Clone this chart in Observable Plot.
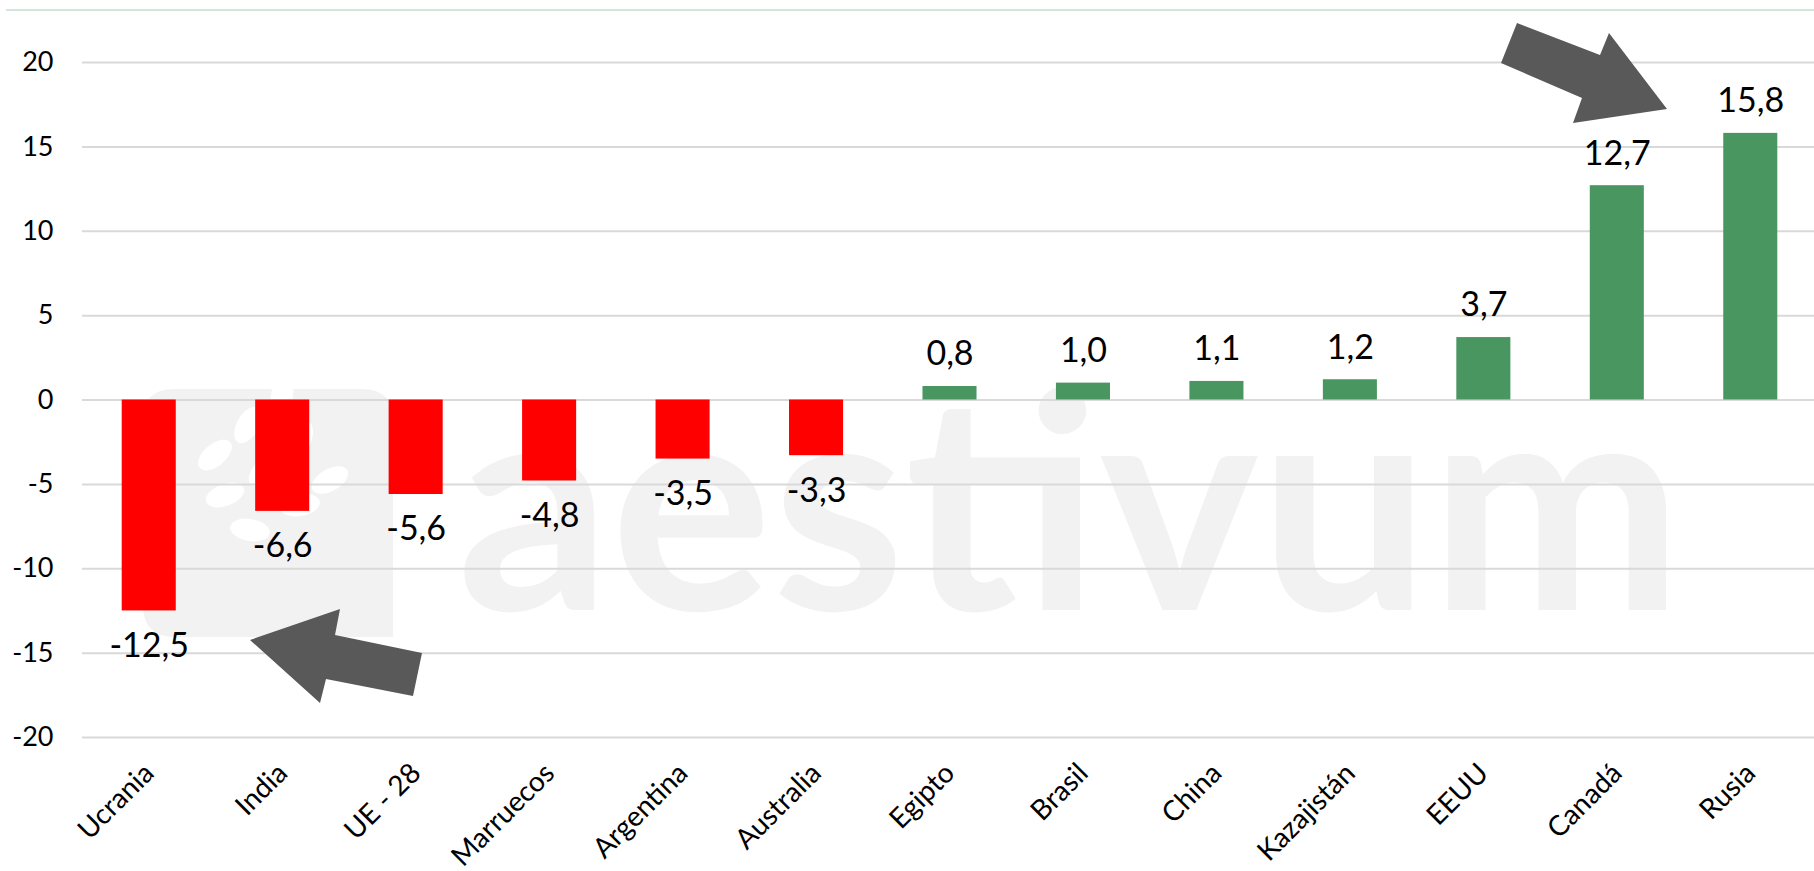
<!DOCTYPE html>
<html><head><meta charset="utf-8">
<script src="https://cdn.jsdelivr.net/npm/d3@7"></script>
<script src="https://cdn.jsdelivr.net/npm/@observablehq/plot@0.6"></script>
<style>body{margin:0;background:#fff} svg{display:block}</style>
</head><body><div id="chart"></div>
<script>
const countries = ["Ucrania","India","UE - 28","Marruecos","Argentina","Australia","Egipto","Brasil","China","Kazajistán","EEUU","Canadá","Rusia"];
const values = [-12.5,-6.6,-5.6,-4.8,-3.5,-3.3,0.8,1.0,1.1,1.2,3.7,12.7,15.8];
const yTicks = [-20,-15,-10,-5,0,5,10,15,20];
const data = countries.map((c,i)=>({country:c, value:values[i]}));
const neg = data.filter(d=>d.value<0);
const pos = data.filter(d=>d.value>=0);
const fmt = v => v.toFixed(1).replace(".", ",");

const chart = Plot.plot({
  width:1814, height:871,
  marginLeft:82, marginRight:-3, marginTop:62, marginBottom:134,
  style:{fontFamily:"Lato", background:"#fff", color:"#000", overflow:"hidden"},
  x:{domain:countries, paddingInner:0.595, paddingOuter:0.2975, round:false, label:null},
  y:{domain:[-20,20], label:null},
  marks:[
    Plot.gridY(yTicks,{stroke:"#d9d9d9", strokeOpacity:1, strokeWidth:2}),
    Plot.barY(neg,{x:"country", y:"value", fill:"#ff0000"}),
    Plot.barY(pos,{x:"country", y:"value", fill:"#4a9661"}),
    Plot.text(pos,{x:"country", y:"value", text:d=>fmt(d.value), dy:-32, fontSize:34, fill:"#000"}),
    Plot.text(neg,{x:"country", y:"value", text:d=>fmt(d.value), dy:35, fontSize:34, fill:"#000"}),
    Plot.axisY({ticks:yTicks, tickSize:0, tickPadding:29, fontSize:27, tickFormat:d=>String(d), label:null}),
    Plot.axisX({tickSize:0, tickRotate:-45, tickPadding:31, fontSize:28, label:null})
  ]
});

const svg = d3.select(chart);
// watermark (behind everything)
const wm = svg.insert("g", ":first-child");
wm.append("path")
  .attr("d","M143,420 Q143,389 174,389 L362,389 Q393,389 393,420 L393,637 L175,637 Q143,637 143,605 Z")
  .attr("fill","#f2f2f2");
const leaves = [[215,455,-40],[248,425,-60],[282,395,-80],[225,495,-20],[265,470,-45],[300,440,-65],[250,530,10],[300,505,-10],[330,480,-30]];
leaves.forEach(([cx,cy,r])=>{
  wm.append("ellipse").attr("cx",cx).attr("cy",cy).attr("rx",20).attr("ry",11)
    .attr("transform",`rotate(${r},${cx},${cy})`).attr("fill","#fff");
});
wm.append("text").attr("x",457).attr("y",610).attr("text-anchor","start")
  .attr("textLength",1226).attr("lengthAdjust","spacingAndGlyphs")
  .attr("font-family","Lato").attr("font-weight","bold").attr("font-size",300).attr("fill","#f2f2f2").text("aestivum");

// top border line
svg.append("line").attr("x1",6).attr("x2",1814).attr("y1",10).attr("y2",10).attr("stroke","#d3e6d9").attr("stroke-width",2);

// arrows
const arrows = [
  [[250,640],[340,609],[335,635],[422,653],[413,696],[326,679],[320,703]],
  [[1517,23],[1600,55],[1609,33],[1667,109],[1573,123],[1582,98],[1501,63]]
];
arrows.forEach(pts=>{
  svg.append("polygon").attr("points",pts.map(p=>p.join(",")).join(" ")).attr("fill","#595959");
});

document.getElementById("chart").appendChild(chart);
</script>
</body></html>
